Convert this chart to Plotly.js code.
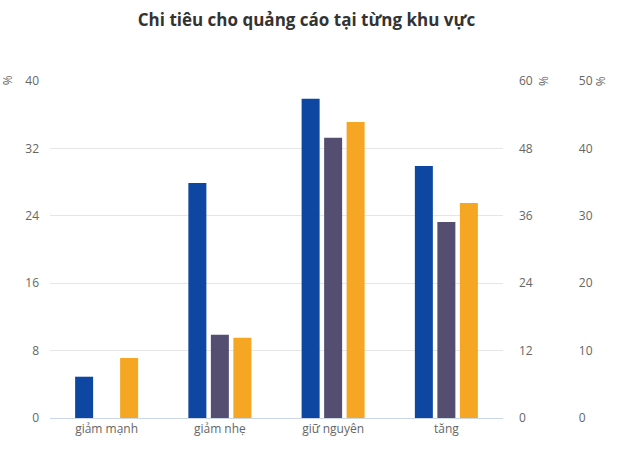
<!DOCTYPE html>
<html>
<head>
<meta charset="utf-8">
<script src="https://cdn.plot.ly/plotly-3.0.1.min.js"></script>
<style>html,body{margin:0;padding:0;background:#fff;}#chart{width:628px;height:456px;}</style>
</head>
<body>
<div id="chart"></div>
<script>
const categories = ["giảm mạnh", "giảm nhẹ", "giữ nguyên", "tăng"];
const seriesA = [4.9, 27.9, 37.9, 29.9];   // left axis 0-40
const seriesB = [0, 14.8, 49.9, 34.9];     // right axis 0-60
const seriesC = [8.9, 11.9, 43.9, 31.9];   // far right axis 0-50
const leftTicks = [0, 8, 16, 24, 32, 40];
const rightTicks = [0, 12, 24, 36, 48, 60];
const farTicks = [0, 10, 20, 30, 40, 50];

const font = "'Open Sans', Lato, sans-serif";
const bw = 0.159, step = 0.1987;

const traces = [
  {type:'bar', x:categories, y:seriesA, yaxis:'y', marker:{color:'#0e47a1'}, width:bw, offset:-step-bw/2, hoverinfo:'y'},
  {type:'bar', x:categories, y:seriesB, yaxis:'y2', marker:{color:'#544f70'}, width:bw, offset:-bw/2, hoverinfo:'y'},
  {type:'bar', x:categories, y:seriesC, yaxis:'y3', marker:{color:'#f5a623'}, width:bw, offset:step-bw/2, hoverinfo:'y'}
];

const tickFont = {family:font, size:12, color:'#666666'};
const pctFont = {family:font, size:12, color:'#666666'};
const layout = {
  width:628, height:456,
  margin:{l:50, r:20, t:81, b:38},
  paper_bgcolor:'#fff', plot_bgcolor:'#fff',
  showlegend:false,
  barmode:'overlay',
  title:{text:'<b>Chi tiêu cho quảng cáo tại từng khu vực</b>', x:0.488, xanchor:'center', y:0.955, yanchor:'middle', font:{family:font, size:17, color:'#333333'}},
  xaxis:{domain:[0, 0.8118], type:'category', showgrid:false, showline:true, linecolor:'#ccd6eb', linewidth:1, ticks:'', tickfont:tickFont, zeroline:false},
  yaxis:{range:[0,40], tickvals:leftTicks, showgrid:true, gridcolor:'#e6e6e6', zeroline:false, tickfont:tickFont, ticklabelstandoff:10, fixedrange:true},
  yaxis2:{range:[0,60], tickvals:rightTicks, overlaying:'y', side:'right', anchor:'x', showgrid:false, zeroline:false, tickfont:tickFont, ticklabelstandoff:15},
  yaxis3:{range:[0,50], tickvals:farTicks, overlaying:'y', side:'right', anchor:'free', position:0.919, showgrid:false, zeroline:false, tickfont:tickFont, ticklabelstandoff:15},
  annotations:[
    {text:'%', xref:'paper', yref:'paper', x:-0.075, y:1.003, xanchor:'center', yanchor:'middle', showarrow:false, textangle:-90, font:pctFont},
    {text:'%', xref:'paper', yref:'paper', x:0.8835, y:1.0, xanchor:'center', yanchor:'middle', showarrow:false, textangle:-90, font:pctFont},
    {text:'%', xref:'paper', yref:'paper', x:0.986, y:1.0, xanchor:'center', yanchor:'middle', showarrow:false, textangle:-90, font:pctFont}
  ]
};
Plotly.newPlot('chart', traces, layout, {displayModeBar:false, staticPlot:true});
</script>
</body>
</html>
